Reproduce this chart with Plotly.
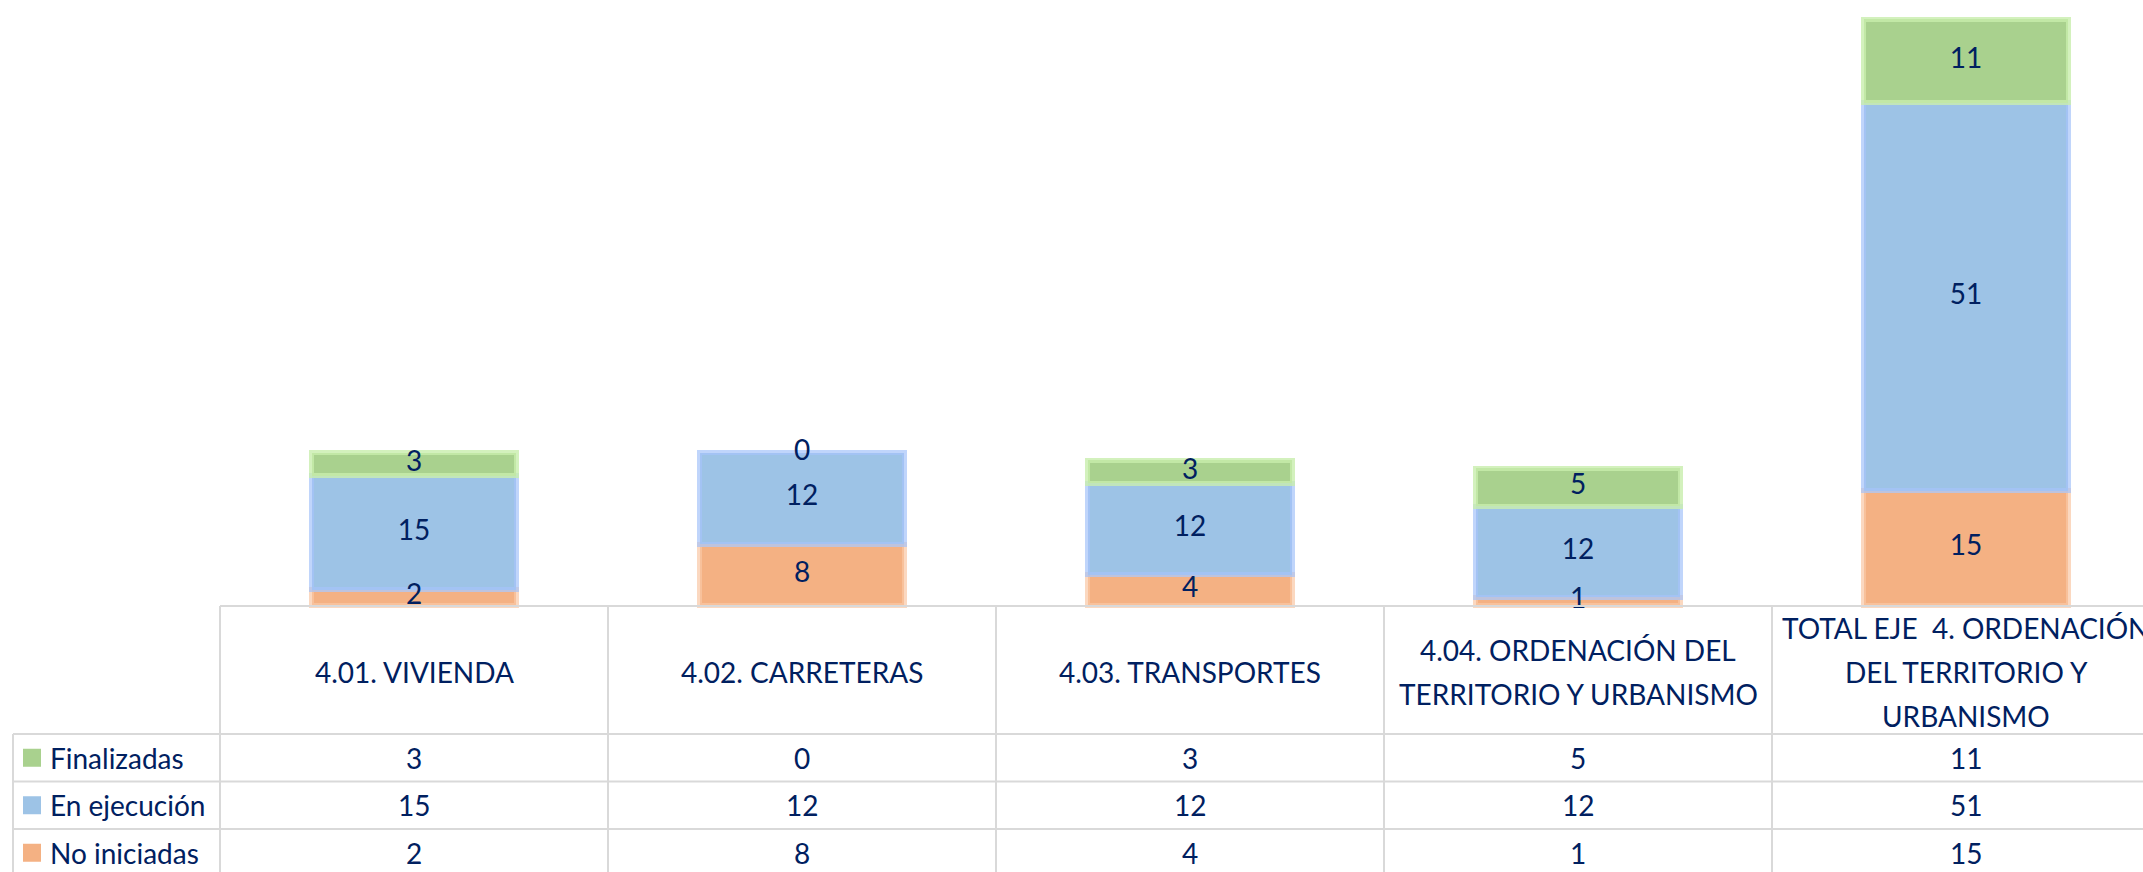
import plotly.graph_objects as go

# ---------------- data ----------------
categories = [
    "4.01. VIVIENDA",
    "4.02. CARRETERAS",
    "4.03. TRANSPORTES",
    "4.04. ORDENACIÓN DEL TERRITORIO Y URBANISMO",
    "TOTAL EJE  4. ORDENACIÓN DEL TERRITORIO Y URBANISMO",
]
header_lines = [
    ["4.01. VIVIENDA"],
    ["4.02. CARRETERAS"],
    ["4.03. TRANSPORTES"],
    ["4.04. ORDENACIÓN DEL", "TERRITORIO Y URBANISMO"],
    ["TOTAL EJE  4. ORDENACIÓN", "DEL TERRITORIO Y", "URBANISMO"],
]
no_iniciadas = [2, 8, 4, 1, 15]
en_ejecucion = [15, 12, 12, 12, 51]
finalizadas = [3, 0, 3, 5, 11]

series_names = ["No iniciadas", "En ejecución", "Finalizadas"]
series_values = [no_iniciadas, en_ejecucion, finalizadas]
fill_colors = ["#F4B183", "#9DC3E6", "#A9D18E"]
glow_colors = ["rgba(250,200,165,0.7)", "rgba(165,195,250,0.7)", "rgba(200,238,172,0.8)"]

TEXT = "#002060"
FONT = "Lato"
FS = 28
W, H = 2143, 872

fig = go.Figure()

# ---------------- stacked bars ----------------
base = [0] * len(categories)
lx, ly, lt = [], [], []
for name, vals, fc, gc in zip(series_names, series_values, fill_colors, glow_colors):
    fig.add_trace(go.Bar(
        x=categories, y=vals, name=name, width=0.526,
        marker=dict(color=fc, line=dict(color=gc, width=[5 if v > 0 else 0 for v in vals])),
        showlegend=False, hoverinfo="x+y+name",
    ))
    for c, b, v in zip(categories, base, vals):
        lx.append(c)
        ly.append(b + v / 2)
        lt.append(str(v))
    base = [b + v for b, v in zip(base, vals)]

fig.add_trace(go.Scatter(
    x=lx, y=ly, text=lt, mode="text", textposition="middle center",
    textfont=dict(family=FONT, size=FS, color=TEXT),
    showlegend=False, hoverinfo="skip", cliponaxis=False,
))

# ---------------- data table (layout geometry) ----------------
def py(p):
    return (H - p) / H

col_w = 388.0
x0_px = 414.0
def px2x(p):
    return (p - x0_px) / col_w

top_px, head_bot_px, row_h = 606, 734, 47.5
row_lines_px = [head_bot_px + i * row_h for i in range(4)]
GRID = "#D9D9D9"
shapes = []
n = len(categories)
shapes.append(dict(type="line", xref="x", yref="paper", x0=-0.5, x1=n - 0.5,
                   y0=py(top_px), y1=py(top_px), line=dict(color=GRID, width=2)))
for p in row_lines_px:
    shapes.append(dict(type="line", xref="x", yref="paper", x0=px2x(13), x1=n - 0.5,
                       y0=py(p), y1=py(p), line=dict(color=GRID, width=2)))
for i in range(n + 1):
    shapes.append(dict(type="line", xref="x", yref="paper", x0=i - 0.5, x1=i - 0.5,
                       y0=py(top_px), y1=-0.05, line=dict(color=GRID, width=2)))
shapes.append(dict(type="line", xref="x", yref="paper", x0=px2x(13), x1=px2x(13),
                   y0=py(head_bot_px), y1=-0.05, line=dict(color=GRID, width=2)))

annotations = []
head_center, head_sp = 672, 44
for i, lines in enumerate(header_lines):
    k = len(lines)
    for j, line in enumerate(lines):
        p = head_center + (j - (k - 1) / 2) * head_sp
        annotations.append(dict(xref="x", yref="paper", x=i, y=py(p), text=line,
                                showarrow=False, xanchor="center", yanchor="middle",
                                font=dict(family=FONT, size=FS, color=TEXT)))

row_order = [2, 1, 0]
for r, si in enumerate(row_order):
    cy = row_lines_px[r] + row_h / 2
    shapes.append(dict(type="rect", xref="x", yref="paper", x0=px2x(23), x1=px2x(41),
                       y0=py(cy + 9), y1=py(cy - 9), fillcolor=fill_colors[si],
                       line=dict(width=0)))
    annotations.append(dict(xref="x", yref="paper", x=px2x(48), y=py(cy),
                            text=series_names[si], showarrow=False, xanchor="left",
                            yanchor="middle", font=dict(family=FONT, size=FS, color=TEXT)))
    for i, v in enumerate(series_values[si]):
        annotations.append(dict(xref="x", yref="paper", x=i, y=py(cy), text=str(v),
                                showarrow=False, xanchor="center", yanchor="middle",
                                font=dict(family=FONT, size=FS, color=TEXT)))

fig.update_layout(
    width=W, height=H,
    margin=dict(l=0, r=0, t=0, b=0),
    barmode="stack",
    plot_bgcolor="white", paper_bgcolor="white",
    xaxis=dict(type="category", range=[px2x(0), px2x(W)], visible=False,
               categoryorder="array", categoryarray=categories),
    yaxis=dict(range=[-35.08, 79.5], visible=False),
    shapes=shapes,
    annotations=annotations,
    font=dict(family=FONT, size=FS, color=TEXT),
)

fig.write_html("out.html", config={"displayModeBar": False},
               post_script="document.body.style.margin='0';document.body.style.overflow='hidden';")
